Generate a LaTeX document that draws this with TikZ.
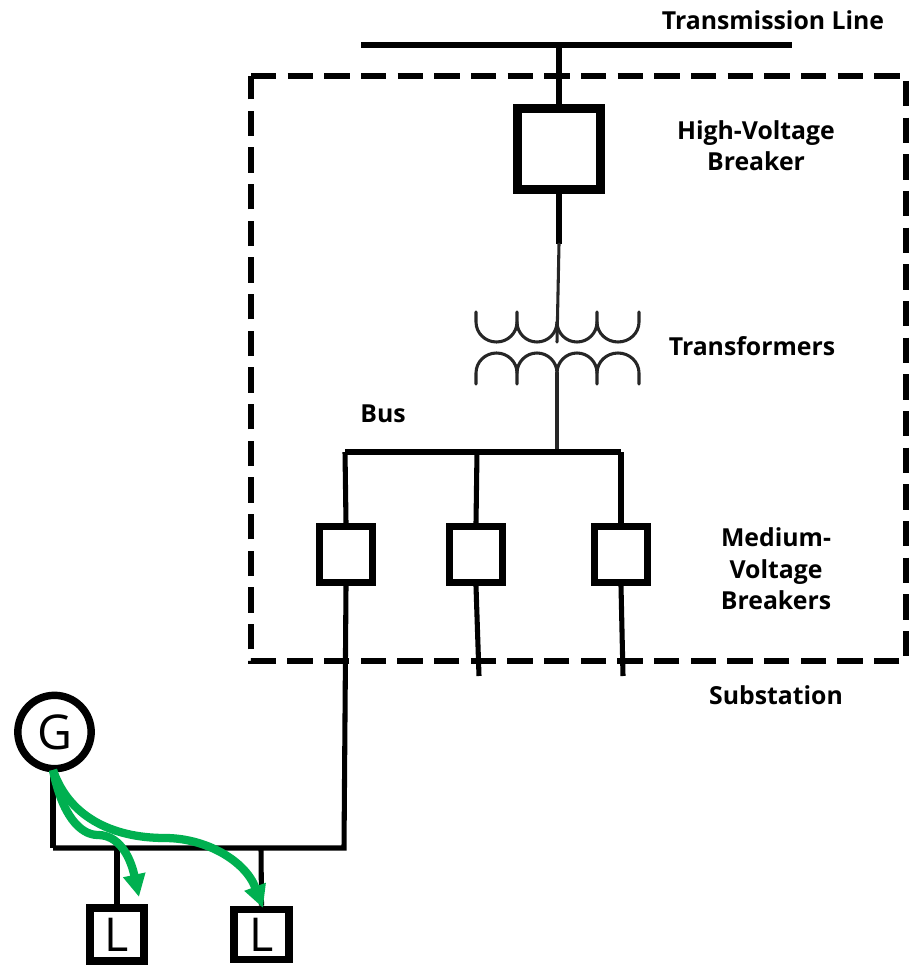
\documentclass[tikz,border=0pt]{standalone}
\usepackage{fontspec}
\setmainfont{Open Sans}
\usetikzlibrary{arrows.meta}
\definecolor{flowgreen}{RGB}{0,176,80}
\tikzset{
  x=0.75pt,y=-0.75pt,
  lbl/.style={font=\bfseries\fontsize{18.6}{23.5}\selectfont,align=center,text=black,inner sep=0pt},
  wire/.style={line width=3.8pt,line cap=butt},
  breaker/.style={draw,line width=5.2pt,fill=white,minimum width=39.5pt,minimum height=42pt,inner sep=0pt},
  hvbreaker/.style={breaker,line width=6.4pt,minimum width=62pt,minimum height=61pt},
  load/.style={draw,line width=5.8pt,fill=white,inner sep=0pt,font=\fontsize{35}{37}\selectfont},
  coil/.style={line width=2.3pt,color=black!85,line cap=round},
  flow/.style={draw=flowgreen,line width=6.2pt,-{Triangle[length=17pt,width=16pt]}}
}
\begin{document}
\begin{tikzpicture}
\useasboundingbox (0,0) rectangle (912,966);
% substation box
\draw[line width=4pt,dash pattern=on 19pt off 8.5pt] (251,76) -- (906,76) -- (906,661) -- (251,661) -- cycle;
% coordinates
\coordinate (tlL) at (361,45);
\coordinate (tlR) at (792,45);
\coordinate (tlT) at (559,45);
\coordinate (busL) at (345,452);
\coordinate (busR) at (621,452);
\coordinate (busM) at (477,452);
\coordinate (busX) at (557,452);
\coordinate (hvEnd) at (559,244);
\coordinate (f2) at (479,676);
\coordinate (f3) at (623,676);
\coordinate (lvL) at (53,848);
\coordinate (lvR) at (344,848);
\coordinate (lvLa) at (117,848);
\coordinate (lvLb) at (261,848);
% top bus
\draw[wire] (tlL) -- (tlR);
% breakers
\node[hvbreaker] (hv) at (559,149) {};
\node[breaker] (m1) at (346,554.5) {};
\node[breaker] (m2) at (476,554.5) {};
\node[breaker] (m3) at (621,554.5) {};
\draw[wire] (tlT) -- (hv.north);
\draw[wire] (hv.south) -- (hvEnd);
% transformer
\draw[coil] (hvEnd) -- (557,342);
\draw[coil] (476,312) -- (476,322) arc[start angle=180,end angle=0,x radius=20.5,y radius=20] -- (517,312);
\draw[coil] (517,322) arc[start angle=180,end angle=0,x radius=20,y radius=20];
\draw[coil] (557,322) arc[start angle=180,end angle=0,x radius=20,y radius=20];
\draw[coil] (597,312) -- (597,322) arc[start angle=180,end angle=0,x radius=21,y radius=20] -- (639,312);
\draw[coil] (476,384) -- (476,373) arc[start angle=180,end angle=360,x radius=20.5,y radius=20] -- (517,384);
\draw[coil] (517,373) arc[start angle=180,end angle=360,x radius=20,y radius=20];
\draw[coil] (557,373) arc[start angle=180,end angle=360,x radius=20,y radius=20];
\draw[coil] (597,384) -- (597,373) arc[start angle=180,end angle=360,x radius=21,y radius=20] -- (639,384);
\draw[coil] (557,373) -- (busX);
% MV bus
\draw[wire,line cap=square] (busL) -- (busR);
\draw[wire] (busL) -- (m1.north);
\draw[wire] (busM) -- (m2.north);
\draw[wire] (busR) -- (m3.north);
\draw[wire] (m2.south) -- (f2);
\draw[wire] (m3.south) -- (f3);
% lower network
\node[circle,draw,line width=5.6pt,fill=white,minimum size=55pt,inner sep=0pt,font=\fontsize{36}{38}\selectfont] (g) at (54.5,732) {G};
\node[load,minimum width=40pt,minimum height=40pt] (l1) at (117,934.5) {L};
\node[load,minimum width=41.5pt,minimum height=37.5pt] (l2) at (261.5,934.5) {L};
\draw[wire,line cap=square] (m1.south) -- (lvR) -- (lvL);
\draw[wire] (lvL) -- (53,770);
\draw[wire] (lvLa) -- (l1.north);
\draw[wire] (lvLb) -- (l2.north);
% flows
\draw[flow] (53,770) .. controls (62,815) and (80,835) .. (98,835) .. controls (118,835) and (130,855) .. (139,897);
\draw[flow] (53,770) .. controls (68,815) and (110,838) .. (165,838) .. controls (205,838) and (245,860) .. (263,908);
% labels
\node[lbl] (t1) at (773,20) {Transmission Line};
\node[lbl] (t2) at (756,146) {High-Voltage\\Breaker};
\node[lbl] (t3) at (752,346) {Transformers};
\node[lbl] (t4) at (383,414) {Bus};
\node[lbl] (t5) at (776,569) {Medium-\\Voltage\\Breakers};
\node[lbl] (t6) at (776,695) {Substation};
\end{tikzpicture}
\end{document}
